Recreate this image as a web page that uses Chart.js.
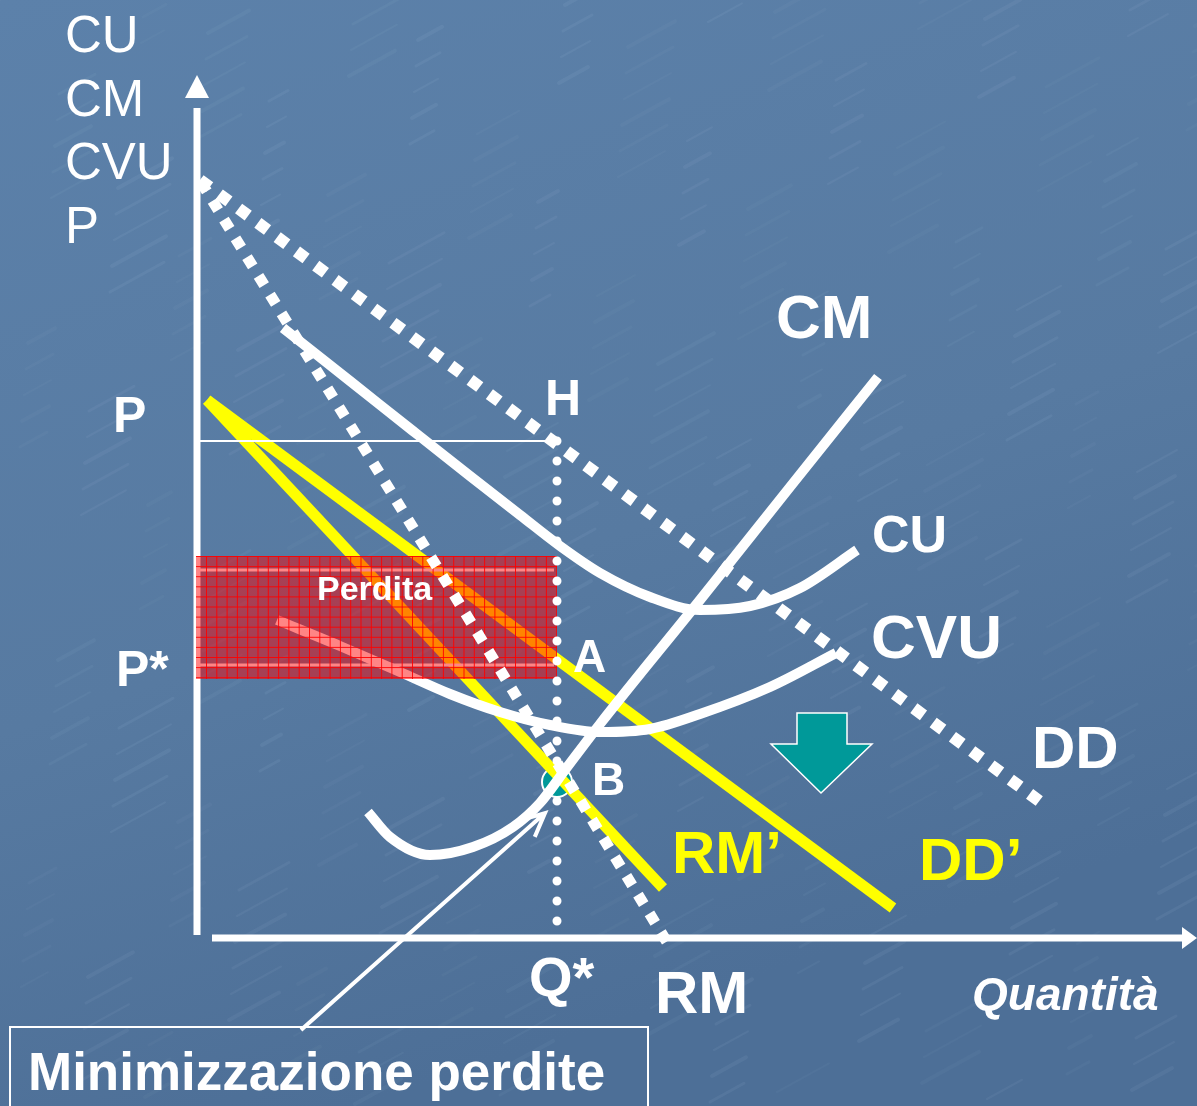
<!DOCTYPE html>
<html>
<head>
<meta charset="utf-8">
<script src="https://cdn.jsdelivr.net/npm/chart.js@4.4.1/dist/chart.umd.min.js"></script>
<style>
  html, body { margin: 0; padding: 0; background: #56799f; }
  canvas { display: block; }
</style>
</head>
<body>
<canvas id="chart" width="1197" height="1106"></canvas>
<script>
// Quantity (Q) on x, cost / price on y, in abstract units.

// Demand DD and marginal revenue RM (before the shift)
const ddQ = [0.2, 84.4];
const ddP = [75.8, 13.5];
const rmQ = [0.3, 47.2];
const rmP = [75.6, -0.9];

// Shifted demand DD' and marginal revenue RM'
const dd2Q = [0.9, 69.5];
const dd2P = [53.8, 3.0];
const rm2Q = [0.9, 46.5];
const rm2P = [53.8, 5.0];

// Average total cost CU
const cuQ = [8.5, 15.2, 21.5, 27.2, 32.2, 36.2, 40.2, 45.2, 50.2, 55.2, 60.2, 65.9];
const cuP = [61.0, 55.7, 50.7, 46.2, 42.3, 39.2, 36.5, 34.1, 32.8, 33.2, 35.0, 38.8];

// Average variable cost CVU
const cvuQ = [7.9, 14.2, 20.2, 25.2, 30.2, 35.2, 40.2, 45.2, 50.2, 57.2, 63.8];
const cvuP = [31.8, 29.2, 26.6, 24.4, 22.6, 21.3, 20.6, 20.9, 22.4, 25.1, 28.5];

// Marginal cost CM
const cmQ = [17.0, 19.2, 23.2, 27.5, 31.5, 34.2, 36.7, 40.2, 50.2, 59.2, 68.0];
const cmP = [12.6, 10.1, 8.3, 9.1, 11.1, 13.5, 16.8, 21.4, 33.8, 45.1, 56.1];

// Equilibrium quantities and prices
const qStar = 35.9;          // Q*
const priceH = 49.7;         // P (price read on DD at Q*)
const priceStar = 27.3;      // P*
const costAtQ = 36.8;        // CU level at Q*
const pointB = [35.9, 15.6]; // CM = RM'
const lossQ = [-0.2, 35.9];  // "Perdita" area
const lossP = [25.9, 38.2];

// Text
const yTitle = ['CU', 'CM', 'CVU', 'P'];
const xTitle = 'Quantità';
const lossLabel = 'Perdita';
const noteText = 'Minimizzazione perdite';

const FONT = '"Liberation Sans", Arial, Helvetica, sans-serif';
const WHITE = '#ffffff';
const YELLOW = '#ffff00';
const TEAL = '#009999';

function pts(qs, ps) { return qs.map((q, i) => ({ x: q, y: ps[i] })); }
function line(label, qs, ps, style) {
  return Object.assign({
    label, data: pts(qs, ps), showLine: true, pointRadius: 0, pointHoverRadius: 0,
    fill: false, clip: false, borderColor: WHITE, borderWidth: 10, tension: 0, order: 0
  }, style);
}

const curve = { cubicInterpolationMode: 'monotone' };

const datasets = [
  // drawn above the loss area
  line('DD', ddQ, ddP, { borderWidth: 12, borderDash: [12, 12] }),
  line('RM', rmQ, rmP, { borderWidth: 11, borderDash: [11, 11] }),
  line('CU', cuQ, cuP, Object.assign({ borderWidth: 10 }, curve)),
  line('CM', cmQ, cmP, Object.assign({ borderWidth: 10 }, curve)),
  line('Q*', [qStar, qStar], [priceH, 0.8], { borderWidth: 9, borderDash: [0, 20], borderCapStyle: 'round' }),
  line('P', [0.1, qStar - 0.4], [priceH, priceH], { borderWidth: 2 }),
  // drawn beneath the loss area
  line('CVU', cvuQ, cvuP, Object.assign({ borderWidth: 10, order: 1 }, curve)),
  line('CU(Q*)', [0.2, qStar - 0.3], [costAtQ, costAtQ], { borderWidth: 3, order: 1 }),
  line('P*', [0.2, qStar - 0.3], [priceStar, priceStar], { borderWidth: 3, order: 1 }),
  line("RM'", rm2Q, rm2P, { borderWidth: 11, borderColor: YELLOW, order: 1 }),
  line("DD'", dd2Q, dd2P, { borderWidth: 11, borderColor: YELLOW, order: 1 })
];

const economics = {
  id: 'economics',
  beforeDraw(chart) {
    const { ctx, width, height } = chart;
    ctx.save();
    const g = ctx.createLinearGradient(0, 0, width * 0.3, height);
    g.addColorStop(0, '#5c81aa');
    g.addColorStop(0.6, '#577aa1');
    g.addColorStop(1, '#4d6f97');
    ctx.fillStyle = g;
    ctx.fillRect(0, 0, width, height);
    // faint diagonal streaks of the paper texture
    ctx.lineCap = 'round';
    for (let i = 0; i < 420; i++) {
      const x = (i * 389) % width;
      const y = (i * 263) % height;
      const len = 18 + (i * 37) % 40;
      ctx.strokeStyle = `rgba(190,215,240,${0.035 + ((i * 13) % 5) * 0.01})`;
      ctx.lineWidth = 2 + (i % 3);
      ctx.beginPath();
      ctx.moveTo(x, y);
      ctx.lineTo(x + len, y - len * 0.55);
      ctx.stroke();
    }
    ctx.restore();
  },
  beforeDatasetsDraw(chart) {
    const { ctx } = chart;
    const xs = v => chart.scales.x.getPixelForValue(v);
    const ys = v => chart.scales.y.getPixelForValue(v);
    ctx.save();
    ctx.fillStyle = WHITE;
    ctx.strokeStyle = WHITE;
    // vertical axis with arrow
    const ax = xs(0) - 1;
    ctx.lineWidth = 7;
    ctx.beginPath();
    ctx.moveTo(ax, ys(0.3));
    ctx.lineTo(ax, ys(83.0));
    ctx.stroke();
    ctx.beginPath();
    ctx.moveTo(ax, ys(86.3));
    ctx.lineTo(ax - 12, ys(84.0));
    ctx.lineTo(ax + 12, ys(84.0));
    ctx.closePath();
    ctx.fill();
    // horizontal axis with arrow
    const ay = ys(0);
    ctx.beginPath();
    ctx.moveTo(xs(1.4), ay);
    ctx.lineTo(xs(98.6), ay);
    ctx.stroke();
    ctx.beginPath();
    ctx.moveTo(xs(99.9), ay);
    ctx.lineTo(xs(98.4), ay - 11);
    ctx.lineTo(xs(98.4), ay + 11);
    ctx.closePath();
    ctx.fill();
    // point B
    ctx.beginPath();
    ctx.arc(xs(pointB[0]), ys(pointB[1]), 15, 0, Math.PI * 2);
    ctx.fillStyle = TEAL;
    ctx.fill();
    ctx.lineWidth = 2;
    ctx.stroke();
    ctx.restore();
  },
  afterDatasetDraw(chart, args) {
    if (chart.data.datasets[args.index].label !== 'CVU') return;
    const { ctx } = chart;
    const xs = v => chart.scales.x.getPixelForValue(v);
    const ys = v => chart.scales.y.getPixelForValue(v);
    const x0 = xs(lossQ[0]), x1 = xs(lossQ[1]);
    const y0 = ys(lossP[1]), y1 = ys(lossP[0]);
    ctx.save();
    ctx.fillStyle = 'rgba(255,0,0,0.48)';
    ctx.fillRect(x0, y0, x1 - x0, y1 - y0);
    ctx.beginPath();
    ctx.rect(x0, y0, x1 - x0, y1 - y0);
    ctx.clip();
    ctx.strokeStyle = 'rgba(255,0,0,0.9)';
    ctx.lineWidth = 1;
    ctx.beginPath();
    for (let x = Math.round(x0) + 10.5; x < x1; x += 10.3) { ctx.moveTo(x, y0); ctx.lineTo(x, y1); }
    for (let y = Math.round(y0) + 0.5; y < y1; y += 10.1) { ctx.moveTo(x0, y); ctx.lineTo(x1, y); }
    ctx.stroke();
    ctx.restore();
  },
  afterDatasetsDraw(chart) {
    const { ctx } = chart;
    const xs = v => chart.scales.x.getPixelForValue(v);
    const ys = v => chart.scales.y.getPixelForValue(v);
    ctx.save();
    ctx.textBaseline = 'alphabetic';
    ctx.textAlign = 'left';
    const text = (t, q, p, font, color) => {
      ctx.font = font;
      ctx.fillStyle = color || WHITE;
      ctx.fillText(t, xs(q), ys(p));
    };

    // shift arrow
    ctx.beginPath();
    ctx.moveTo(xs(59.9), ys(22.5));
    ctx.lineTo(xs(64.9), ys(22.5));
    ctx.lineTo(xs(64.9), ys(19.4));
    ctx.lineTo(xs(67.4), ys(19.4));
    ctx.lineTo(xs(62.3), ys(14.5));
    ctx.lineTo(xs(57.3), ys(19.4));
    ctx.lineTo(xs(59.9), ys(19.4));
    ctx.closePath();
    ctx.fillStyle = TEAL;
    ctx.fill();
    ctx.strokeStyle = WHITE;
    ctx.lineWidth = 1.5;
    ctx.stroke();

    // vertical axis title
    yTitle.forEach((t, i) => text(t, -13.3, 88.6 - i * 6.37, `51px ${FONT}`));

    // curve and point labels
    text('CM', 57.8, 60.0, `bold 62px ${FONT}`);
    text('CU', 67.4, 38.6, `bold 52px ${FONT}`);
    text('CVU', 67.3, 28.0, `bold 62px ${FONT}`);
    text('DD', 83.4, 17.0, `bold 60px ${FONT}`);
    text('DD\u2019', 72.1, 5.8, `bold 60px ${FONT}`, YELLOW);
    text('RM\u2019', 47.4, 6.5, `bold 60px ${FONT}`, YELLOW);
    text('RM', 45.7, -7.5, `bold 60px ${FONT}`);
    text('Q*', 33.1, -5.8, `bold 56px ${FONT}`);
    text('B', 39.4, 14.3, `bold 46px ${FONT}`);
    text('A', 37.5, 26.6, `bold 46px ${FONT}`);
    text('H', 34.7, 52.3, `bold 50px ${FONT}`);
    text('P', -8.5, 50.6, `bold 50px ${FONT}`);
    text('P*', -8.2, 25.2, `bold 50px ${FONT}`);
    text(lossLabel, 11.9, 33.8, `bold 34px ${FONT}`);
    text(xTitle, 77.4, -7.2, `italic bold 46px ${FONT}`);

    // note box with pointer to B
    ctx.strokeStyle = WHITE;
    ctx.lineWidth = 2;
    ctx.strokeRect(xs(-18.8), ys(-8.9), xs(45.0) - xs(-18.8), 120);
    text(noteText, -17.0, -15.2, `bold 53px ${FONT}`);

    const tx = xs(10.3), ty = ys(-9.2), hx = xs(34.7), hy = ys(12.5);
    ctx.lineWidth = 4;
    ctx.lineCap = 'butt';
    ctx.beginPath();
    ctx.moveTo(tx, ty);
    ctx.lineTo(hx, hy);
    const back = Math.atan2(ty - hy, tx - hx);
    ctx.moveTo(hx + 26 * Math.cos(back + 0.44), hy + 26 * Math.sin(back + 0.44));
    ctx.lineTo(hx, hy);
    ctx.lineTo(hx + 26 * Math.cos(back - 0.44), hy + 26 * Math.sin(back - 0.44));
    ctx.stroke();
    ctx.restore();
  }
};

new Chart(document.getElementById('chart'), {
  type: 'scatter',
  data: { datasets },
  options: {
    responsive: false,
    animation: false,
    devicePixelRatio: 1,
    layout: { padding: { left: 198, right: 0, top: 38, bottom: 168 } },
    scales: {
      x: { type: 'linear', display: false, min: 0, max: 99.9 },
      y: { type: 'linear', display: false, min: 0, max: 90 }
    },
    plugins: { legend: { display: false }, tooltip: { enabled: false } },
    events: []
  },
  plugins: [economics]
});
</script>
</body>
</html>
